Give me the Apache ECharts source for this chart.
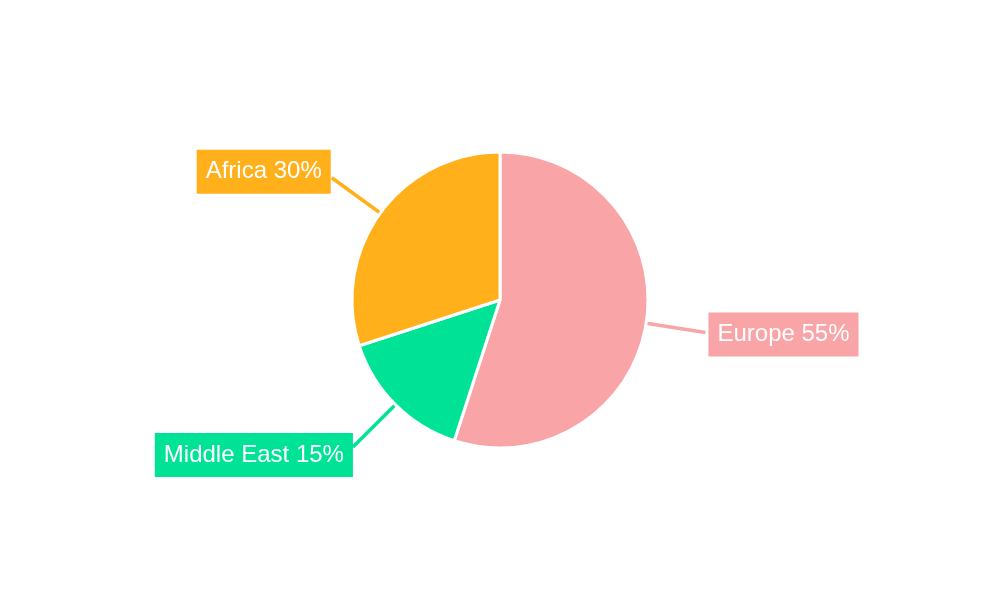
<!DOCTYPE html>
<html>
<head>
<meta charset="utf-8">
<script src="https://cdn.jsdelivr.net/npm/echarts@6/dist/echarts.min.js"></script>
<style>
html,body{margin:0;padding:0;background:#fff}
#main{width:1000px;height:600px}
</style>
</head>
<body>
<div id="main"></div>
<script>
var regions = ['Europe', 'Middle East', 'Africa'];
var shares = [55, 15, 30];
var colors = ['#F9A4A6', '#00E296', '#FFB01A'];
// small nudge of each label box relative to its leader line
var labelNudgeX = [3, 0, -1];
var labelNudgeY = [2, 8, -6];

var chart = echarts.init(document.getElementById('main'));
var data = regions.map(function (name, i) {
    return {
        name: name,
        value: shares[i],
        itemStyle: {color: colors[i]},
        label: {backgroundColor: colors[i]},
        labelLine: {lineStyle: {color: colors[i]}}
    };
});
option = {
    animation: false,
    series: [{
        type: 'pie',
        center: ['50%', '50%'],
        radius: 148,
        startAngle: 90,
        clockwise: true,
        itemStyle: {
            borderColor: '#fff',
            borderWidth: 3
        },
        label: {
            show: true,
            position: 'outside',
            formatter: '{b} {c}%',
            color: '#fff',
            fontFamily: 'Liberation Sans',
            fontSize: 24,
            padding: [10, 9, 10, 9],
            lineHeight: 24,
            distanceToLabelLine: 0
        },
        labelLine: {
            show: true,
            length: 60,
            length2: 0,
            lineStyle: {width: 3.5}
        },
        labelLayout: function (params) {
            return {
                dx: labelNudgeX[params.dataIndex],
                dy: labelNudgeY[params.dataIndex]
            };
        },
        emphasis: {disabled: true},
        data: data
    }]
};
chart.setOption(option);
window.addEventListener('resize', function () {
    chart.resize();
});
</script>
</body>
</html>
